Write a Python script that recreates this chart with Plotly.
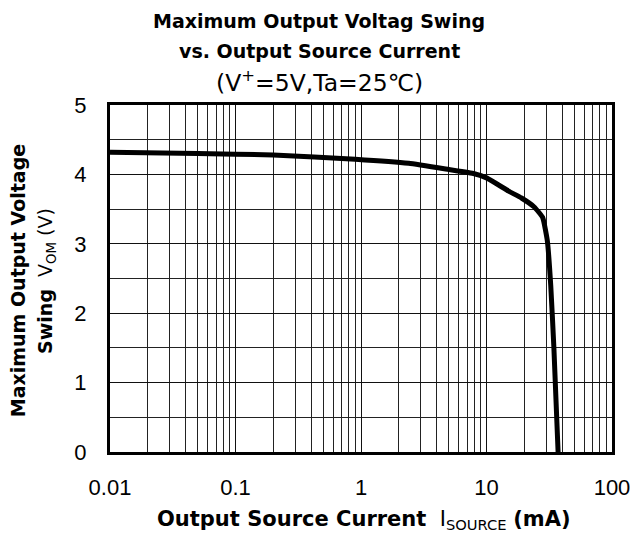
import plotly.graph_objects as go

# Data
current_ma = [0.01, 0.05, 0.2, 0.9, 2.4, 5, 8, 10, 15, 19, 24, 28, 30.5, 32.5, 34.4, 37.2]
vom_v = [4.32, 4.30, 4.28, 4.22, 4.16, 4.07, 4.01, 3.95, 3.76, 3.66, 3.53, 3.38, 3.05, 2.40, 1.52, 0.0]

x_tickvals = [0.01, 0.1, 1, 10, 100]
x_ticktext = ["0.01", "0.1", "1", "10", "100"]
y_tickvals = [0, 1, 2, 3, 4, 5]
y_ticktext = ["0", "1", "2", "3", "4", "5"]

title_lines = [
    "<b>Maximum Output Voltag Swing</b>",
    "<b>vs. Output Source Current</b>",
    "(V<sup>+</sup>=5V,Ta=25℃)",
]
x_title = "<b>Output Source Current</b>\u00a0\u00a0I<sub>SOURCE</sub> <b>(mA)</b>"
y_title_lines = ["<b>Maximum Output Voltage</b>", "<b>Swing</b>\u00a0\u00a0V<sub>OM</sub> (V)"]

fig = go.Figure()
fig.add_trace(go.Scatter(
    x=current_ma, y=vom_v, mode="lines",
    line=dict(color="black", width=5, shape="spline", smoothing=0.4),
    showlegend=False, hoverinfo="skip",
))

# Body margin is reset to 0 (post_script), so geometry is in screen pixels.
W, H = 642, 535
PL, PR, PT, PB = 110, 619, 105, 452          # plot area in screen pixels
L, T = PL, PT
R = W - PR
B = H - PB
pw, ph = PR - PL, PB - PT

def py(ypx):
    return (PB - ypx) / ph

def px(xpx):
    return (xpx - PL) / pw

annotations = []
for txt, ypx, sz in zip(title_lines, [21, 51, 82], [19, 19, 23.5]):
    annotations.append(dict(text=txt, x=px(322), y=py(ypx), xref="paper", yref="paper",
                            xanchor="center", yanchor="middle", showarrow=False,
                            font=dict(family="DejaVu Sans", size=sz, color="black")))
annotations.append(dict(text=x_title, x=px(368), y=py(520), xref="paper", yref="paper",
                        xanchor="center", yanchor="middle", showarrow=False,
                        font=dict(family="DejaVu Sans", size=21, color="black")))
for txt, xpx in zip(y_title_lines, [17, 45]):
    annotations.append(dict(text=txt, x=px(xpx), y=py(281), xref="paper", yref="paper",
                            xanchor="center", yanchor="middle", showarrow=False, textangle=-90,
                            font=dict(family="DejaVu Sans", size=19, color="black")))

fig.update_layout(
    width=W, height=H,
    margin=dict(l=L, r=R, t=T, b=B, pad=0),
    paper_bgcolor="white", plot_bgcolor="white",
    annotations=annotations,
    xaxis=dict(
        type="log", range=[-2, 2],
        tickvals=x_tickvals, ticktext=x_ticktext,
        tickfont=dict(family="Liberation Sans", size=22, color="black"),
        ticks="", ticklabelstandoff=14, ticklabeloverflow="allow",
        showgrid=True, gridcolor="#111", gridwidth=1,
        minor=dict(dtick="D1", showgrid=True, gridcolor="#222", gridwidth=1, ticks=""),
        showline=True, linecolor="black", linewidth=3, mirror=True,
        zeroline=False,
    ),
    yaxis=dict(
        range=[0, 5],
        tickvals=y_tickvals, ticktext=y_ticktext,
        tickfont=dict(family="Liberation Sans", size=22, color="black"),
        ticks="", ticklabelstandoff=16,
        showgrid=True, gridcolor="#111", gridwidth=1,
        minor=dict(dtick=0.5, showgrid=True, gridcolor="#222", gridwidth=1, ticks=""),
        showline=True, linecolor="black", linewidth=3, mirror=True,
        zeroline=False,
    ),
)

fig.write_html(
    "out.html",
    config={"displayModeBar": False},
    post_script="document.body.style.margin='0';document.body.style.overflow='hidden';",
)
